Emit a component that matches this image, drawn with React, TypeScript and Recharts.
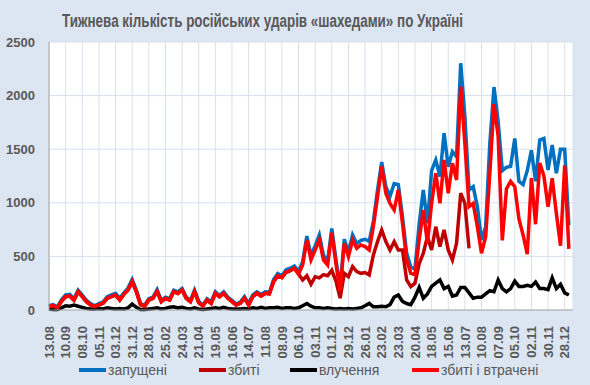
import { LineChart, Line, XAxis, YAxis, CartesianGrid } from "recharts";

// weekly counts, one value per week starting 13.08
const launched = [
  40, 50, 30, 95, 140, 145, 105, 185, 140, 90, 60, 40, 60, 75, 125, 140, 155, 110, 160, 205,
  285, 185, 60, 45, 105, 120, 190, 90, 120, 105, 185, 170, 200, 120, 90, 185, 80, 45, 105, 75,
  170, 135, 170, 120, 90, 55, 75, 125, 60, 140, 170, 145, 170, 165, 285, 340, 320, 375, 390, 410,
  360, 450, 690, 510, 600, 700, 510, 460, 760, 470, 210, 660, 540, 700, 620, 650, 660, 640, 830, 1120,
  1380, 1150, 1060, 1180, 1170, 870, 530, 400, 380, 800, 1120, 809, 1300, 1400, 1244, 1650, 1337, 1477, 1431, 2302,
  1804, 1120, 1151, 964, 653, 777, 1555, 2080, 1760, 1300, 1330, 1340, 1600, 1200, 1170, 1300, 1490, 1200, 1586, 1600,
  1306, 1540, 1275, 1500, 1500, 790,
];

const downed: (number | null)[] = [
  30, 40, 20, 80, 124, 130, 90, 170, 124, 78, 47, 31, 47, 62, 109, 124, 140, 93, 146, 187,
  264, 171, 50, 35, 93, 109, 171, 78, 109, 93, 171, 155, 187, 109, 78, 171, 68, 37, 93, 62,
  155, 124, 155, 109, 78, 47, 62, 109, 47, 124, 156, 130, 156, 150, 264, 318, 302, 352, 367, 389,
  336, 280, 320, 240, 310, 300, 330, 320, 370, 270, 110, 342, 311, 404, 358, 342, 350, 327, 513, 638,
  747, 638, 560, 638, 560, 560, 280, 218, 250, 430, 529, 684, 560, 777, 591, 747, 560, 467, 622, 1089,
  995, 575,
];

const hits = [
  10, 5, 5, 20, 40, 35, 45, 35, 25, 15, 10, 10, 15, 10, 20, 15, 10, 15, 10, 20,
  55, 25, 5, 5, 10, 15, 20, 10, 15, 25, 30, 20, 25, 15, 10, 20, 10, 5, 10, 15,
  20, 15, 25, 15, 10, 10, 10, 15, 10, 20, 15, 25, 15, 20, 20, 25, 15, 20, 20, 15,
  20, 40, 60, 35, 20, 20, 15, 20, 15, 10, 15, 10, 15, 10, 15, 20, 40, 62, 30, 30,
  35, 30, 50, 120, 140, 80, 60, 50, 120, 210, 110, 150, 220, 250, 280, 200, 220, 130, 140, 210,
  210, 160, 110, 120, 120, 150, 180, 170, 280, 200, 170, 200, 270, 220, 220, 230, 220, 260, 200, 200,
  190, 300, 200, 240, 160, 140,
];

const downedLost = [
  30, 40, 20, 80, 124, 130, 90, 170, 124, 78, 47, 31, 47, 62, 109, 124, 140, 93, 146, 187,
  264, 171, 50, 35, 93, 109, 171, 78, 109, 93, 171, 155, 187, 109, 78, 171, 68, 37, 93, 62,
  155, 124, 155, 109, 78, 47, 62, 109, 47, 124, 156, 130, 156, 150, 264, 318, 302, 352, 367, 389,
  336, 420, 653, 467, 560, 653, 467, 420, 720, 430, 180, 622, 498, 653, 576, 607, 591, 560, 778, 1058,
  1338, 1089, 995, 933, 1120, 809, 467, 342, 330, 650, 933, 622, 995, 1275, 995, 1400, 1089, 1369, 1213, 2084,
  1555, 964, 995, 777, 529, 684, 1275, 1920, 1620, 650, 1130, 1200, 1150, 850, 700, 520, 1230, 800, 1370, 1250,
  964, 1230, 900, 600, 1350, 570,
];

// one label every 4 weeks
const tickLabels = [
  "13.08", "10.09", "08.10", "05.11", "03.12", "31.12", "28.01", "25.02", "24.03", "21.04",
  "19.05", "16.06", "14.07", "11.08", "08.09", "06.10", "03.11", "01.12", "29.12", "26.01",
  "23.02", "23.03", "20.04", "18.05", "15.06", "13.07", "10.08", "07.09", "05.10", "02.11",
  "30.11", "28.12",
];

const yTicks = [0, 500, 1000, 1500, 2000, 2500];

const legendItems = [
  { name: "запущені", color: "#0070c0", left: 79 },
  { name: "збиті", color: "#c00000", left: 199 },
  { name: "влучення", color: "#000000", left: 290 },
  { name: "збиті і втрачені", color: "#ff0000", left: 412 },
];

const data = launched.map((v, i) => ({
  i,
  launched: v,
  downed: downed[i] ?? null,
  hits: hits[i],
  downedLost: downedLost[i],
}));

const xTicks = tickLabels.map((_, k) => k * 4);

const FONT = "'Liberation Sans', Arial, sans-serif";
const GREY = "#595959";

function XTick(props: any) {
  const { x, y, payload } = props;
  const label = tickLabels[Math.round(payload.value / 4)];
  return (
    <g transform={`translate(${x},${y})`}>
      <text
        transform="rotate(-90)"
        textAnchor="end"
        dy="0.36em"
        fill={GREY}
        fontSize={13}
        fontWeight="bold"
        fontFamily={FONT}
      >
        {label}
      </text>
    </g>
  );
}

export default function App() {
  return (
    <div
      style={{
        position: "absolute",
        left: 0,
        top: 0,
        width: 590,
        height: 385,
        background: "#dce6f2",
        fontFamily: FONT,
      }}
    >
      <svg width={590} height={40} style={{ position: "absolute", left: 0, top: 0 }}>
        <text
          x={62}
          y={26.5}
          textLength={401}
          lengthAdjust="spacingAndGlyphs"
          fontFamily={FONT}
          fontWeight="bold"
          fontSize={18}
          fill={GREY}
        >
          Тижнева кількість російських ударів «шахедами» по Україні
        </text>
      </svg>
      <LineChart
        width={590}
        height={385}
        data={data}
        margin={{ top: 42, right: 17, left: 0, bottom: 0 }}
        style={{ position: "absolute", left: 0, top: 0 }}
      >
        <CartesianGrid stroke="#d6e1ee" strokeWidth={1} fill="#ffffff" />
        <XAxis
          dataKey="i"
          type="number"
          domain={[0, 126]}
          ticks={xTicks}
          interval={0}
          height={75}
          tickLine={false}
          tickMargin={10}
          axisLine={{ stroke: "#a6a6a6" }}
          tick={<XTick />}
        />
        <YAxis
          domain={[0, 2500]}
          ticks={yTicks}
          width={49}
          tickLine={false}
          tickMargin={8}
          axisLine={{ stroke: "#a6a6a6" }}
          tick={{ fill: GREY, fontSize: 13, fontWeight: "bold", fontFamily: FONT }}
        />
        <Line type="linear" dataKey="launched" stroke="#0070c0" strokeWidth={3.5} dot={false} activeDot={false} isAnimationActive={false} />
        <Line type="linear" dataKey="downed" stroke="#c00000" strokeWidth={3.5} dot={false} activeDot={false} isAnimationActive={false} />
        <Line type="linear" dataKey="hits" stroke="#000000" strokeWidth={3.5} dot={false} activeDot={false} isAnimationActive={false} />
        <Line type="linear" dataKey="downedLost" stroke="#ff0000" strokeWidth={3.5} dot={false} activeDot={false} isAnimationActive={false} />
      </LineChart>
      {legendItems.map((it) => (
        <div
          key={it.name}
          style={{
            position: "absolute",
            left: it.left,
            top: 360,
            height: 20,
            display: "flex",
            alignItems: "center",
            fontSize: 14,
            color: GREY,
            whiteSpace: "nowrap",
          }}
        >
          <span style={{ display: "inline-block", width: 27, height: 4, background: it.color, marginRight: 2 }} />
          {it.name}
        </div>
      ))}
    </div>
  );
}
